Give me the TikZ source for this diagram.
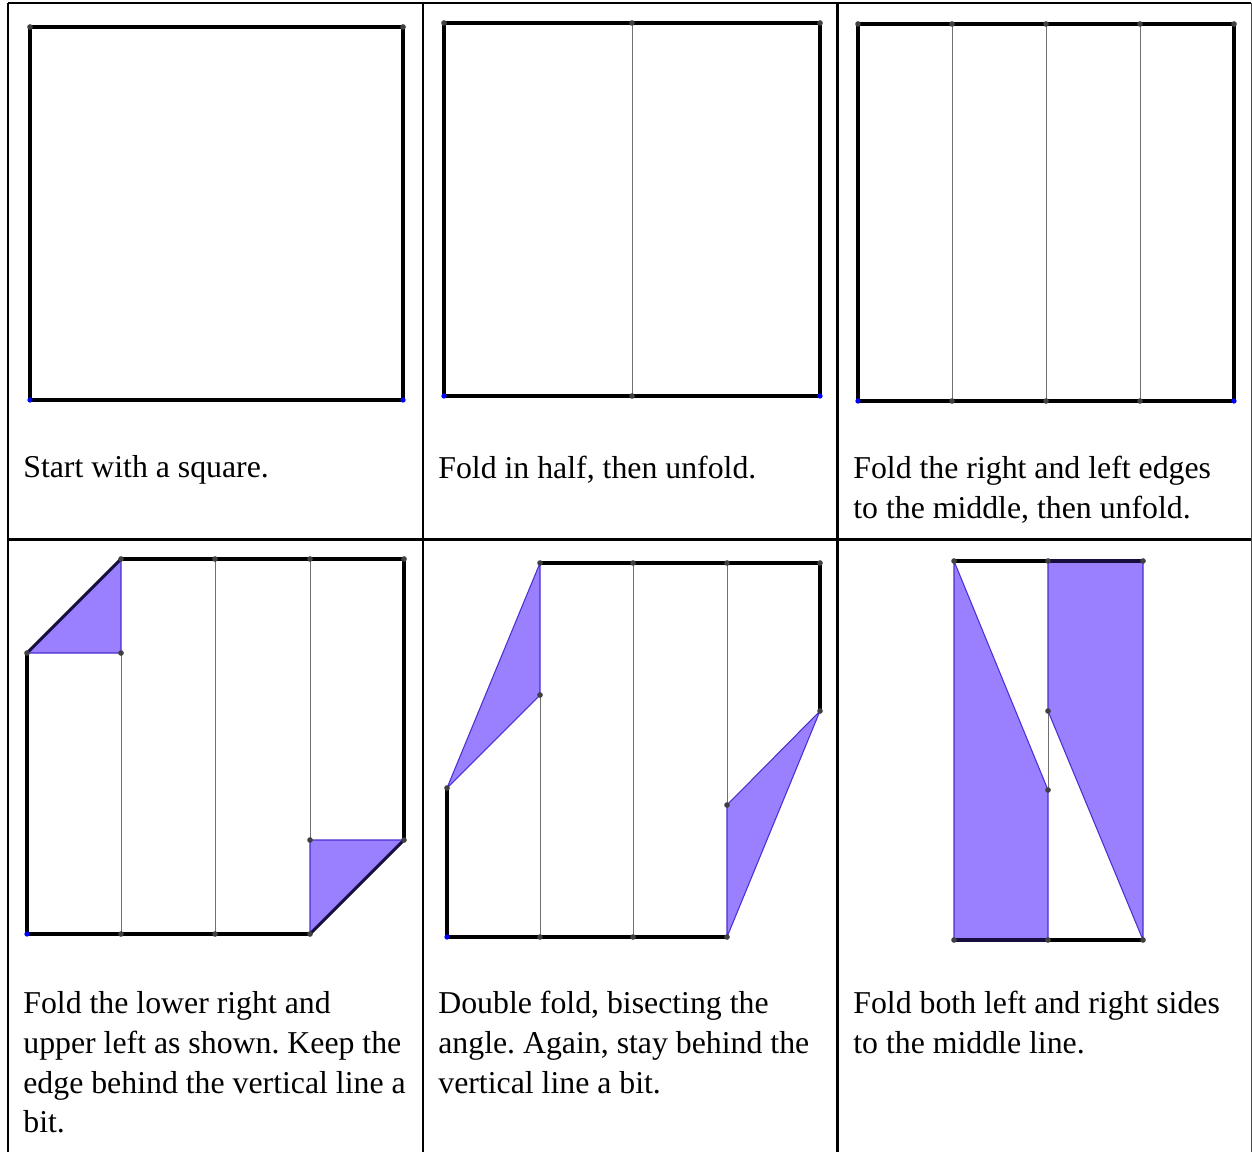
\documentclass[tikz,border=0pt]{standalone}
\usepackage{fontspec}
\setmainfont{Liberation Serif}
\definecolor{foldfill}{HTML}{9A7FFF}
\definecolor{foldedge}{HTML}{4B2FD0}
\definecolor{crease}{HTML}{707070}
\tikzset{
    paper/.style={line width=1.8pt, black},
    folded/.style={fill=foldfill, draw=foldedge, line width=0.6pt, line join=round},
    creaseline/.style={crease, line width=0.55pt},
    gridline/.style={line width=1.3pt, black},
    pt/.style={circle, fill=black!75, inner sep=0pt, minimum size=3.2pt},
    bluept/.style={circle, fill=blue, inner sep=0pt, minimum size=3pt},
    caption/.style={anchor=north west, inner sep=0pt, align=left, text width=400*0.567pt,
        font=\fontsize{18.1}{22.68}\selectfont,
        execute at begin node={\frenchspacing\spaceskip=0.25em\relax}}
}
\begin{document}
\begin{tikzpicture}[x=0.02cm, y=-0.02cm]

    \useasboundingbox (0, 0) rectangle (1252, 1152);

    % 1. Table lines
    \draw[gridline] (8, 3) -- (1251, 3);
    \draw[gridline] (8, 539.5) -- (1251, 539.5);
    \draw[gridline] (8, 3) -- (8, 1152);
    \draw[gridline] (423, 3) -- (423, 1152);
    \draw[gridline] (837.5, 3) -- (837.5, 1152);
    \draw[line width=0.7pt, black!70] (1251.5, 3) -- (1251.5, 1152);

    % 2. Square
    \draw[paper] (30, 27) rectangle (403, 400);
    \node[pt] at (30, 27) {};
    \node[pt] at (403, 27) {};
    \node[bluept] at (30, 400) {};
    \node[bluept] at (403, 400) {};
    \node[caption] (capA) at (23, 455.5) {Start with a square.};

    % 3. Half fold
    \draw[creaseline] (632, 23) -- (632, 396);
    \draw[paper] (444, 23) rectangle (820, 396);
    \foreach \x in {444, 632, 820} \node[pt] at (\x, 23) {};
    \node[bluept] at (444, 396) {};
    \node[pt] at (632, 396) {};
    \node[bluept] at (820, 396) {};
    \node[caption] (capB) at (438, 455.5) {Fold in half, then unfold.};

    % 4. Quarter folds
    \foreach \x in {952, 1046, 1140} \draw[creaseline] (\x, 24) -- (\x, 401);
    \draw[paper] (858, 24) rectangle (1234, 401);
    \foreach \x in {858, 952, 1046, 1140, 1234} \node[pt] at (\x, 24) {};
    \node[bluept] at (858, 401) {};
    \foreach \x in {952, 1046, 1140} \node[pt] at (\x, 401) {};
    \node[bluept] at (1234, 401) {};
    \node[caption] (capC) at (853, 455.5) {Fold the right and left edges\\to the middle, then unfold.};

    % 5. Corners folded
    \draw[creaseline] (121, 653) -- (121, 934);
    \draw[creaseline] (215, 559) -- (215, 934);
    \draw[creaseline] (310, 559) -- (310, 840);
    \filldraw[folded] (27, 653) -- (121, 559) -- (121, 653) -- cycle;
    \filldraw[folded] (404, 840) -- (310, 934) -- (310, 840) -- cycle;
    \draw[paper, line join=round] (121, 559) -- (404, 559) -- (404, 840);
    \draw[paper, line join=round] (310, 934) -- (27, 934) -- (27, 653);
    \draw[foldedge!30!black, line width=1.8pt] (121, 559) -- (27, 653);
    \draw[foldedge!30!black, line width=1.8pt] (404, 840) -- (310, 934);
    \foreach \x/\y in {121/559, 215/559, 310/559, 404/559, 27/653, 121/653,
        310/840, 404/840, 121/934, 215/934, 310/934} \node[pt] at (\x, \y) {};
    \node[bluept] at (27, 934) {};
    \node[caption] (capD) at (23, 991) {Fold the lower right and\\upper left as shown. Keep the\\edge behind the vertical line a\\bit.};

    % 6. Double fold
    \draw[creaseline] (540, 695) -- (540, 937);
    \draw[creaseline] (633, 563) -- (633, 937);
    \draw[creaseline] (727, 563) -- (727, 805);
    \filldraw[folded] (540, 563) -- (540, 695) -- (447, 788) -- cycle;
    \filldraw[folded] (820, 711) -- (727, 805) -- (727, 937) -- cycle;
    \draw[paper, line join=round] (540, 563) -- (820, 563) -- (820, 711);
    \draw[paper, line join=round] (727, 937) -- (447, 937) -- (447, 788);
    \foreach \x/\y in {540/563, 633/563, 727/563, 820/563, 540/695, 447/788,
        820/711, 727/805, 540/937, 633/937, 727/937} \node[pt] at (\x, \y) {};
    \node[bluept] at (447, 937) {};
    \node[caption] (capE) at (438, 991) {Double fold, bisecting the\\angle. Again, stay behind the\\vertical line a bit.};

    % 7. Sides to the middle
    \draw[creaseline] (1048, 711) -- (1048, 790);
    \filldraw[folded] (954, 561) -- (1048, 790) -- (1048, 940) -- (954, 940) -- cycle;
    \filldraw[folded] (1048, 561) -- (1143, 561) -- (1143, 940) -- (1048, 711) -- cycle;
    \draw[paper] (954, 561) -- (1143, 561);
    \draw[paper] (954, 940) -- (1143, 940);
    \draw[foldedge!30!black, line width=1.8pt] (1048, 561) -- (1143, 561);
    \draw[foldedge!30!black, line width=1.8pt] (954, 940) -- (1048, 940);
    \foreach \x/\y in {954/561, 1048/561, 1143/561, 1048/711, 1048/790,
        954/940, 1048/940, 1143/940} \node[pt] at (\x, \y) {};
    \node[caption] (capF) at (853, 991) {Fold both left and right sides\\to the middle line.};

\end{tikzpicture}
\end{document}
